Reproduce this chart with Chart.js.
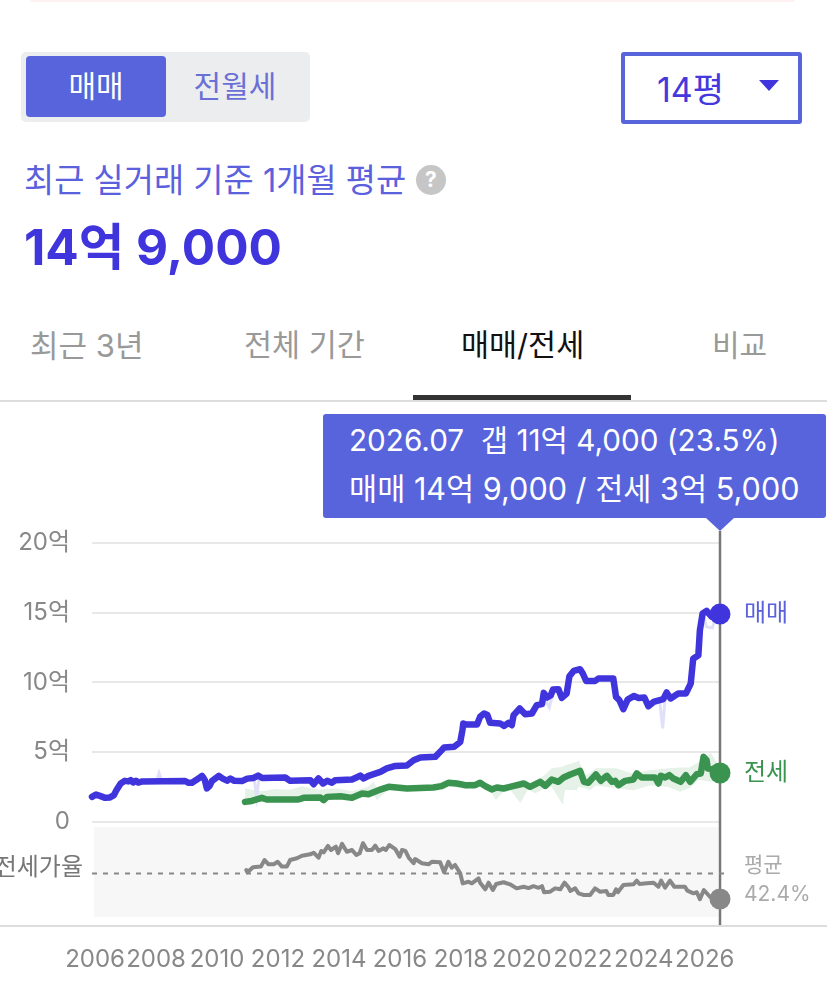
<!DOCTYPE html>
<html lang="ko">
<head>
<meta charset="utf-8">
<title>매매/전세</title>
<script src="https://cdn.jsdelivr.net/npm/chart.js@4/dist/chart.umd.min.js"></script>
<style>
  html, body { margin: 0; padding: 0; background: #fff; }
  body { width: 827px; height: 987px; position: relative; overflow: hidden; font-family: Inter, "Noto Sans CJK KR", sans-serif; }
  .abs { position: absolute; white-space: nowrap; line-height: 1; }
  #chartCanvas { position: absolute; left: 0; top: 400px; }
</style>
</head>
<body>
<div class="abs" style="left:30px;top:0;width:765px;height:2px;background:#fff1f2;border-radius:0 0 6px 6px"></div>

<div class="abs" style="left:21px;top:52px;width:289px;height:70px;background:#ecedef;border-radius:5px"></div>
<div class="abs" style="left:26px;top:56px;width:140px;height:61px;background:#5864dc;border-radius:4px"></div>
<div class="abs" style="left:26px;top:71px;width:140px;text-align:center;font-size:30px;color:#fff">매매</div>
<div class="abs" style="left:166px;top:71px;width:138px;text-align:center;font-size:30px;color:#6b70d6">전월세</div>

<div class="abs" style="left:621px;top:52px;width:173px;height:64px;border:4px solid #5864dc;border-radius:3px"></div>
<div class="abs" style="left:657px;top:73px;font-size:34px;color:#4538dc">14평</div>
<div class="abs" style="left:759px;top:80px;width:0;height:0;border-left:10px solid transparent;border-right:10px solid transparent;border-top:11px solid #4035dc"></div>

<div class="abs" style="left:24px;top:164px;font-size:32.8px;color:#5b60dd">최근 실거래 기준 1개월 평균</div>
<div class="abs" style="left:416px;top:165px;width:30px;height:30px;border-radius:50%;background:#c6c6c6;color:#fff;font-size:21px;font-weight:700;text-align:center;line-height:30px">?</div>
<div class="abs" style="left:24px;top:223px;font-size:49.5px;font-weight:700;color:#4035dc">14억 9,000</div>

<div class="abs" style="left:30px;top:330px;font-size:31px;color:#999">최근 3년</div>
<div class="abs" style="left:244px;top:330px;font-size:30.5px;color:#999">전체 기간</div>
<div class="abs" style="left:461px;top:330px;font-size:30.5px;color:#111">매매/전세</div>
<div class="abs" style="left:712px;top:330px;font-size:30px;color:#999">비교</div>
<div class="abs" style="left:0;top:400px;width:827px;height:2px;background:#ddd"></div>
<div class="abs" style="left:413px;top:395px;width:218px;height:5px;background:#333"></div>

<div class="abs" style="left:323px;top:414px;width:503px;height:104px;background:#5864dc;border-radius:3px"></div>
<div class="abs" style="left:349px;top:426px;font-size:29.7px;color:#fff">2026.07&nbsp; 갭 11억 4,000 (23.5%)</div>
<div class="abs" style="left:349px;top:474px;font-size:30.6px;color:#fff">매매 14억 9,000 / 전세 3억 5,000</div>

<div class="abs" style="left:0;top:925px;width:827px;height:2px;background:#ddd"></div>
<canvas id="chartCanvas" width="827" height="587" style="width:827px;height:587px"></canvas>

<script>
const tickYears = [2006, 2008, 2010, 2012, 2014, 2016, 2018, 2020, 2022, 2024, 2026];
const priceTicks = [0, 5, 10, 15, 20];

// 매매 (unit: 억)
const saleYears = [2005.9, 2006.03, 2006.16, 2006.33, 2006.49, 2006.62, 2006.7, 2006.84, 2006.98, 2007.09, 2007.17, 2007.25, 2007.34, 2007.42, 2007.55, 2008.96, 2009.07, 2009.18, 2009.34, 2009.51, 2009.6, 2009.67, 2009.75, 2009.84, 2010.06, 2010.19, 2010.33, 2010.44, 2010.57, 2010.82, 2010.99, 2011.2, 2011.35, 2011.48, 2012.24, 2012.4, 2013.06, 2013.17, 2013.33, 2013.48, 2013.61, 2013.77, 2013.88, 2014.43, 2014.59, 2014.7, 2014.81, 2014.97, 2015.14, 2015.36, 2015.57, 2015.85, 2016.23, 2016.45, 2016.67, 2017.16, 2017.32, 2017.45, 2017.78, 2017.98, 2018.05, 2018.08, 2018.17, 2018.53, 2018.63, 2018.76, 2018.87, 2018.96, 2019.29, 2019.42, 2019.56, 2019.67, 2019.73, 2019.93, 2020.11, 2020.33, 2020.49, 2020.66, 2020.72, 2020.83, 2020.95, 2021.02, 2021.2, 2021.31, 2021.47, 2021.56, 2021.7, 2021.91, 2022.0, 2022.11, 2022.4, 2022.51, 2023.0, 2023.09, 2023.2, 2023.33, 2023.47, 2023.68, 2023.83, 2024.02, 2024.15, 2024.32, 2024.64, 2024.75, 2024.88, 2025.13, 2025.38, 2025.54, 2025.62, 2025.79, 2025.84, 2025.93, 2026.06, 2026.23, 2026.5];
const saleValues = [1.79, 1.96, 1.86, 1.72, 1.75, 1.91, 2.27, 2.75, 2.94, 2.9, 2.99, 2.82, 2.95, 2.82, 2.9, 2.92, 2.8, 2.8, 3.03, 3.3, 3.0, 2.4, 2.56, 2.94, 3.3, 3.1, 2.95, 3.1, 2.94, 2.92, 3.1, 3.15, 3.32, 3.15, 3.18, 2.94, 2.99, 2.7, 3.11, 2.75, 2.94, 2.8, 2.99, 3.04, 3.2, 3.32, 3.11, 3.3, 3.42, 3.58, 3.83, 4.01, 4.04, 4.42, 4.62, 4.66, 5.02, 5.33, 5.38, 5.73, 6.57, 7.05, 6.98, 6.98, 7.53, 7.77, 7.66, 7.1, 7.05, 6.88, 7.1, 6.93, 7.65, 8.13, 7.72, 7.77, 8.37, 8.44, 9.25, 8.92, 9.08, 9.49, 9.51, 8.89, 9.2, 10.44, 10.82, 10.95, 10.64, 10.1, 10.1, 10.28, 10.28, 8.96, 8.72, 8.08, 8.77, 9.03, 8.89, 8.92, 8.29, 8.6, 8.8, 9.28, 8.85, 9.2, 9.2, 9.92, 11.7, 11.95, 13.74, 14.94, 15.13, 14.7, 14.9];

// 매매 raw deals, only the pale spikes that stick out of the line
const saleRawYears = [2008.02, 2008.1, 2008.2, null, 2011.22, 2011.3, 2011.38, null, 2020.75, 2020.9, 2021.0, null, 2024.52, 2024.62, 2024.7, null, 2025.95, 2026.05, 2026.25, 2026.35];
const saleRawValues = [2.9, 3.5, 2.9, null, 3.1, 1.8, 3.1, null, 8.9, 8.2, 9.0, null, 8.7, 6.7, 8.9, null, 14.9, 14.0, 13.9, 14.7];

// 전세 (unit: 억)
const jeonseYears = [2010.92, 2011.14, 2011.47, 2011.63, 2012.67, 2012.84, 2013.39, 2013.5, 2013.61, 2014.05, 2014.43, 2014.76, 2014.97, 2015.3, 2015.63, 2016.23, 2017.1, 2017.37, 2017.59, 2017.87, 2018.14, 2018.47, 2018.63, 2018.8, 2019.01, 2019.18, 2019.4, 2019.61, 2020.06, 2020.27, 2020.6, 2020.77, 2020.98, 2021.2, 2021.37, 2021.59, 2021.91, 2022.04, 2022.18, 2022.43, 2022.59, 2022.79, 2022.95, 2023.06, 2023.17, 2023.39, 2023.66, 2023.77, 2023.93, 2024.37, 2024.48, 2024.56, 2024.7, 2024.84, 2024.97, 2025.21, 2025.38, 2025.52, 2025.74, 2025.87, 2025.96, 2026.06, 2026.1, 2026.28, 2026.5];
const jeonseValues = [1.43, 1.5, 1.72, 1.6, 1.6, 1.72, 1.75, 1.56, 1.79, 1.84, 1.72, 2.03, 1.98, 2.27, 2.51, 2.39, 2.46, 2.56, 2.8, 2.75, 2.63, 2.63, 2.8, 2.56, 2.32, 2.46, 2.39, 2.51, 2.75, 2.51, 2.87, 2.58, 3.04, 2.87, 3.18, 3.4, 3.66, 2.87, 2.8, 3.4, 2.94, 3.3, 2.87, 2.94, 2.63, 2.94, 3.04, 3.47, 3.18, 3.18, 2.75, 3.3, 3.18, 3.35, 3.11, 2.87, 3.35, 2.87, 3.42, 3.47, 4.66, 4.42, 3.83, 3.78, 3.5];

// 전세 raw deals envelope, the pale green band
const bandYears = [2010.92, 2011.14, 2011.5, 2011.9, 2012.4, 2012.8, 2013.3, 2013.9, 2014.43, 2014.95, 2015.14, 2015.25, 2015.6, 2016.2, 2017.0, 2017.5, 2018.1, 2018.6, 2019.0, 2019.15, 2019.4, 2019.6, 2019.95, 2020.2, 2020.45, 2020.72, 2020.98, 2021.35, 2021.42, 2021.8, 2021.86, 2022.08, 2022.24, 2022.43, 2023.1, 2023.66, 2024.2, 2024.8, 2025.19, 2025.5, 2025.8, 2026.2, 2026.5];
const bandHigh = [2.4, 2.3, 2.2, 2.35, 2.3, 2.55, 2.3, 2.4, 2.2, 2.5, 2.9, 2.4, 2.6, 2.5, 2.6, 3.0, 2.85, 2.95, 2.6, 2.6, 2.5, 2.7, 2.8, 2.7, 2.95, 3.3, 3.85, 3.95, 4.06, 4.3, 4.42, 3.35, 3.5, 3.85, 3.85, 3.45, 3.7, 3.85, 3.9, 3.9, 4.3, 4.95, 3.9];
const bandLow = [1.2, 1.3, 1.5, 1.4, 1.5, 1.6, 1.5, 1.6, 1.65, 1.8, 1.9, 1.55, 2.3, 2.3, 2.3, 2.6, 2.35, 2.6, 2.1, 1.56, 2.2, 2.35, 1.35, 2.3, 2.05, 2.39, 2.5, 1.2, 2.3, 2.27, 2.5, 2.4, 2.27, 2.6, 2.4, 2.27, 2.6, 2.5, 2.15, 2.4, 3.0, 2.87, 3.2];

// 전세가율 (unit: %)
const ratioYears = [2010.96, 2011.0, 2011.18, 2011.44, 2011.56, 2011.69, 2011.86, 2011.99, 2012.13, 2012.29, 2012.4, 2012.62, 2012.79, 2013.06, 2013.17, 2013.33, 2013.42, 2013.5, 2013.64, 2013.74, 2013.9, 2013.97, 2014.1, 2014.26, 2014.43, 2014.57, 2014.68, 2014.79, 2014.92, 2015.08, 2015.19, 2015.3, 2015.46, 2015.54, 2015.65, 2015.85, 2015.99, 2016.07, 2016.18, 2016.29, 2016.45, 2016.5, 2016.72, 2016.94, 2017.05, 2017.32, 2017.45, 2017.59, 2017.7, 2017.81, 2017.98, 2018.06, 2018.25, 2018.36, 2018.58, 2018.63, 2018.8, 2018.91, 2019.05, 2019.16, 2019.4, 2019.61, 2019.83, 2020.06, 2020.22, 2020.38, 2020.55, 2020.66, 2020.73, 2020.93, 2021.09, 2021.26, 2021.4, 2021.53, 2021.59, 2021.75, 2021.86, 2022.02, 2022.24, 2022.4, 2022.57, 2022.77, 2022.84, 2023.0, 2023.09, 2023.15, 2023.33, 2023.66, 2023.77, 2023.86, 2024.1, 2024.32, 2024.48, 2024.57, 2024.7, 2024.86, 2025.0, 2025.35, 2025.43, 2025.63, 2025.74, 2025.84, 2025.97, 2026.17, 2026.5];
const ratioValues = [45, 43.3, 47, 47.5, 52.4, 49.2, 49.2, 51.1, 47.5, 47.5, 52.4, 53.7, 55.6, 56.6, 57.8, 54.1, 59.1, 58.1, 62.8, 59.8, 62.3, 57.4, 64.3, 58.5, 59.8, 56.1, 57.4, 64.8, 59.8, 59.8, 63, 59.1, 61, 59.8, 63.5, 60.5, 54.8, 59.8, 59.1, 54.1, 50, 53.1, 50, 49.2, 51.1, 50.7, 43.3, 51.1, 46.7, 48.7, 42.5, 35.1, 36.3, 35.1, 38.8, 35.6, 30.7, 35.6, 30.2, 34.6, 35.9, 34.4, 31.4, 32.6, 31.6, 33, 31.8, 33, 28.5, 28.9, 31.4, 30.7, 35.6, 32.2, 29.5, 31.4, 27.7, 26.5, 26.5, 31.4, 28.9, 29.4, 26.5, 26.5, 30.7, 28.5, 33.9, 34.4, 37.1, 34.6, 35.1, 35.6, 32.6, 37.1, 31.9, 37.1, 32.6, 32.6, 29.7, 27.7, 28.5, 23.3, 30.2, 25.2, 23.5];
const ratioAverage = 42.4;
const ratioAverageYears = [2005.9, 2026.68];
const ratioPanel = [10.2, 76.8];

const lastYear = 2026.5;

const SALE_COLOR = '#4035dc';
const JEONSE_COLOR = '#3a9450';
const RATIO_COLOR = '#888888';
const BOX_COLOR = '#5864dc';
const FONT = 'Inter, "Noto Sans CJK KR", sans-serif';

function toPoints(xs, ys) {
    return xs.map((x, i) => ({ x: x, y: ys[i] }));
}

// only the last point of a line gets a dot
function lastDot(ctx) {
    return ctx.dataIndex === ctx.dataset.data.length - 1 ? 10.5 : 0;
}

const overlayPlugin = {
    id: 'overlay',
    beforeDatasetsDraw(chart) {
        const { ctx, chartArea, scales } = chart;
        // grey panel behind the ratio line
        const top = scales.yRatio.getPixelForValue(ratioPanel[1]);
        const bottom = scales.yRatio.getPixelForValue(ratioPanel[0]);
        ctx.save();
        ctx.fillStyle = '#f7f7f7';
        ctx.fillRect(chartArea.left + 2, top, 624, bottom - top);
        // crosshair on the selected month
        const x = scales.x.getPixelForValue(lastYear);
        ctx.strokeStyle = '#777';
        ctx.lineWidth = 2.5;
        ctx.beginPath();
        ctx.moveTo(x, chartArea.top - 12);
        ctx.lineTo(x, chartArea.bottom);
        ctx.stroke();
        ctx.restore();
    },
    afterDraw(chart) {
        const { ctx, chartArea, scales } = chart;
        const x = scales.x.getPixelForValue(lastYear);
        ctx.save();
        // tooltip arrow
        ctx.fillStyle = BOX_COLOR;
        ctx.beginPath();
        ctx.moveTo(x - 14, 118);
        ctx.lineTo(x + 14, 118);
        ctx.lineTo(x, chartArea.top - 12);
        ctx.closePath();
        ctx.fill();
        // labels at the end of each line
        ctx.textBaseline = 'middle';
        ctx.font = '24px ' + FONT;
        ctx.fillStyle = '#5b60dd';
        ctx.fillText('매매', x + 24, scales.y.getPixelForValue(saleValues[saleValues.length - 1]));
        ctx.fillStyle = JEONSE_COLOR;
        ctx.fillText('전세', x + 24, scales.y.getPixelForValue(jeonseValues[jeonseValues.length - 1]));
        ctx.font = '21px ' + FONT;
        ctx.fillStyle = '#aaa';
        ctx.fillText('평균', x + 24, 466);
        ctx.fillText(ratioAverage + '%', x + 24, 495);
        ctx.font = '24px ' + FONT;
        ctx.fillStyle = '#777';
        ctx.textAlign = 'right';
        ctx.fillText('전세가율', 83, 468);
        ctx.restore();
    }
};

function renderChart() {
    const ctx = document.getElementById('chartCanvas').getContext('2d');
    new Chart(ctx, {
        type: 'line',
        data: {
            datasets: [
                {
                    label: '전세 상단',
                    data: toPoints(bandYears, bandHigh),
                    borderWidth: 0,
                    pointRadius: 0,
                    backgroundColor: '#e6f2e8',
                    fill: '+1',
                    order: 6
                },
                {
                    label: '전세 하단',
                    data: toPoints(bandYears, bandLow),
                    borderWidth: 0,
                    pointRadius: 0,
                    order: 5
                },
                {
                    label: '매매 실거래',
                    data: toPoints(saleRawYears, saleRawValues),
                    borderColor: '#e0e0f9',
                    borderWidth: 3,
                    pointRadius: 0,
                    spanGaps: false,
                    order: 4
                },
                {
                    label: '평균',
                    yAxisID: 'yRatio',
                    data: toPoints(ratioAverageYears, ratioAverageYears.map(() => ratioAverage)),
                    borderColor: '#888',
                    borderWidth: 2,
                    borderDash: [5, 6],
                    pointRadius: 0,
                    clip: false,
                    order: 3
                },
                {
                    label: '전세가율',
                    yAxisID: 'yRatio',
                    data: toPoints(ratioYears, ratioValues),
                    borderColor: RATIO_COLOR,
                    backgroundColor: RATIO_COLOR,
                    borderWidth: 4,
                    borderJoinStyle: 'round',
                    borderCapStyle: 'round',
                    pointRadius: lastDot,
                    pointBorderWidth: 0,
                    clip: false,
                    order: 2
                },
                {
                    label: '전세',
                    data: toPoints(jeonseYears, jeonseValues),
                    borderColor: JEONSE_COLOR,
                    backgroundColor: JEONSE_COLOR,
                    borderWidth: 6.5,
                    borderJoinStyle: 'round',
                    borderCapStyle: 'round',
                    pointRadius: lastDot,
                    pointBorderWidth: 0,
                    clip: false,
                    order: 1
                },
                {
                    label: '매매',
                    data: toPoints(saleYears, saleValues),
                    borderColor: SALE_COLOR,
                    backgroundColor: SALE_COLOR,
                    borderWidth: 6.5,
                    borderJoinStyle: 'round',
                    borderCapStyle: 'round',
                    pointRadius: lastDot,
                    pointBorderWidth: 0,
                    clip: false,
                    order: 0
                }
            ]
        },
        options: {
            responsive: false,
            animation: false,
            parsing: false,
            normalized: true,
            layout: { padding: { top: 143, right: 107, bottom: 0, left: 0 } },
            plugins: { legend: { display: false }, tooltip: { enabled: false } },
            scales: {
                x: {
                    type: 'linear',
                    min: 2005.9,
                    max: lastYear,
                    grid: { display: false },
                    border: { display: false },
                    afterBuildTicks: axis => { axis.ticks = tickYears.map(v => ({ value: v })); },
                    afterFit: axis => { axis.height = 62; },
                    ticks: {
                        autoSkip: false,
                        maxRotation: 0,
                        padding: 12,
                        color: '#888',
                        font: { size: 24, family: FONT },
                        callback: v => String(v)
                    }
                },
                y: {
                    min: -7.4,
                    max: 20,
                    grid: { color: '#e8e8e8', lineWidth: 2, drawTicks: false },
                    border: { display: false },
                    afterBuildTicks: axis => { axis.ticks = priceTicks.map(v => ({ value: v })); },
                    afterFit: axis => { axis.width = 92; },
                    ticks: {
                        autoSkip: false,
                        padding: 22,
                        color: '#888',
                        font: { size: 24, family: FONT },
                        callback: v => (v === 0 ? '0' : v + '억')
                    }
                },
                // same plot height as y, only the lower strip is in use
                yRatio: {
                    display: false,
                    min: 4.25,
                    max: 287.2
                }
            }
        },
        plugins: [overlayPlugin]
    });
}

renderChart();
</script>
</body>
</html>
